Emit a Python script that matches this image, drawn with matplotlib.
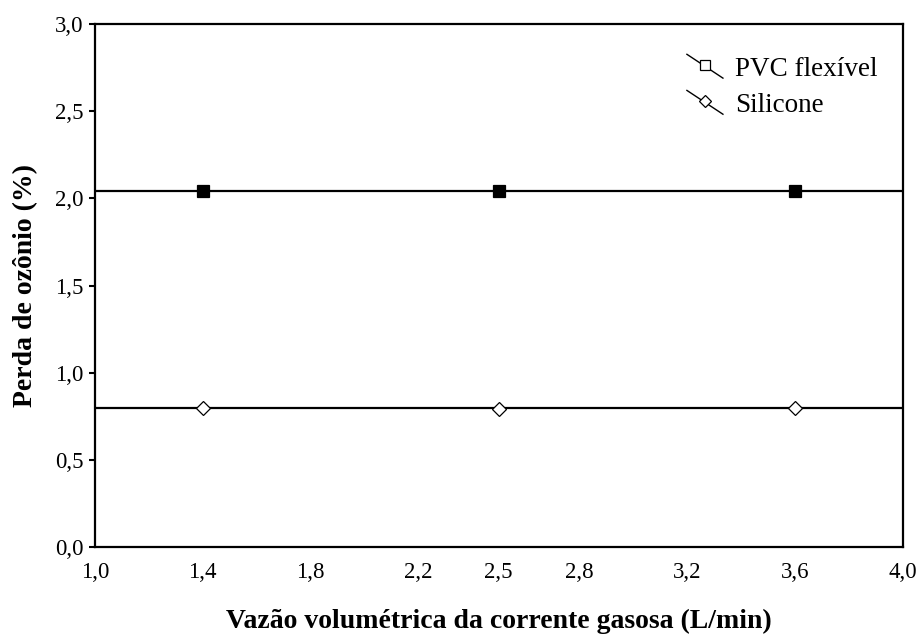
import numpy as np
import matplotlib
matplotlib.use("Agg")
import matplotlib.pyplot as plt
from matplotlib.lines import Line2D
from matplotlib.legend_handler import HandlerBase

# flow rates (L/min) and ozone loss (%)
vazao = [1.4, 2.5, 3.6]
perda_pvc = [2.04, 2.04, 2.04]
perda_silicone = [0.80, 0.79, 0.80]

x_ticks = [1.0, 1.4, 1.8, 2.2, 2.5, 2.8, 3.2, 3.6, 4.0]
x_ticklabels = ["1,0", "1,4", "1,8", "2,2", "2,5", "2,8", "3,2", "3,6", "4,0"]
y_ticks = [0.0, 0.5, 1.0, 1.5, 2.0, 2.5, 3.0]
y_ticklabels = ["0,0", "0,5", "1,0", "1,5", "2,0", "2,5", "3,0"]

plt.rcParams["font.family"] = ["Liberation Serif", "DejaVu Serif"]


class DiagonalHandler(HandlerBase):
    """Legend key drawn as a short diagonal segment with the marker in the middle."""

    def create_artists(self, legend, orig_handle, xdescent, ydescent,
                       width, height, fontsize, trans):
        seg = Line2D([0, width], [height + 2, -1.5], color="black", lw=1.0)
        mk = Line2D([width / 2], [height / 2 + 1], marker=orig_handle.get_marker(),
                    markersize=orig_handle.get_markersize(),
                    markerfacecolor="white", markeredgecolor="black",
                    markeredgewidth=0.9, linestyle="none")
        seg.set_transform(trans)
        mk.set_transform(trans)
        return [seg, mk]


fig = plt.figure(figsize=(9.21, 6.34), dpi=100)
ax = fig.add_axes([0.103, 0.137, 0.877, 0.825])

xfit = np.array([1.0, 4.0])
for y, mk, ms, fc in [(perda_pvc, "s", 8.5, "black"), (perda_silicone, "D", 7, "white")]:
    a, b = np.polyfit(vazao, y, 1)
    ax.plot(xfit, a * xfit + b, color="black", lw=1.6, zorder=2)
    ax.plot(vazao, y, linestyle="none", marker=mk, markersize=ms,
            markerfacecolor=fc, markeredgecolor="black", markeredgewidth=0.9, zorder=3)

ax.set_xlim(1.0, 4.0)
ax.set_ylim(0.0, 3.0)
ax.set_xticks(x_ticks)
ax.set_xticklabels(x_ticklabels)
ax.set_yticks(y_ticks)
ax.set_yticklabels(y_ticklabels)
ax.tick_params(axis="x", length=0, pad=11, labelsize=16.5)
ax.tick_params(axis="y", direction="out", length=4, width=1.5, pad=4, labelsize=16.5)
for s in ax.spines.values():
    s.set_linewidth(1.6)

ax.set_xlabel("Vazão volumétrica da corrente gasosa (L/min)", fontsize=20,
              fontweight="bold", labelpad=18)
ax.set_ylabel("Perda de ozônio (%)", fontsize=20, fontweight="bold", labelpad=12)

handles = [Line2D([], [], marker="s", markersize=6.5), Line2D([], [], marker="D", markersize=6.5)]
ax.legend(handles, ["PVC flexível", "Silicone"], handler_map={Line2D: DiagonalHandler()},
          loc="upper left", bbox_to_anchor=(0.733, 0.937), frameon=False, fontsize=19.5,
          handlelength=1.33, handletextpad=0.45, labelspacing=0.41,
          borderpad=0, borderaxespad=0)

fig.savefig("out.png", dpi=100)
